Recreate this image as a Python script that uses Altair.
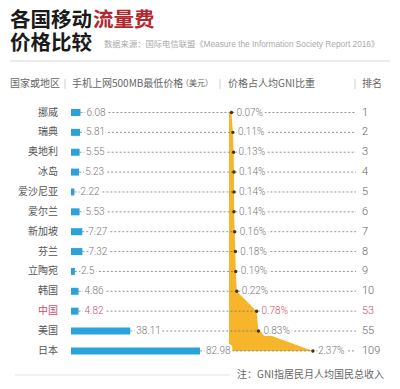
import altair as alt
import pandas as pd

countries = ["挪威", "瑞典", "奥地利", "冰岛", "爱沙尼亚", "爱尔兰", "新加坡", "芬兰", "立陶宛", "韩国", "中国", "美国", "日本"]
prices = [6.08, 5.81, 5.55, 5.23, 2.22, 5.53, 7.27, 7.32, 2.5, 4.86, 4.82, 38.11, 82.98]
price_labels = ["6.08", "5.81", "5.55", "5.23", "2.22", "5.53", "7.27", "7.32", "2.5", "4.86", "4.82", "38.11", "82.98"]
gni_share = [0.07, 0.11, 0.13, 0.14, 0.14, 0.14, 0.16, 0.18, 0.19, 0.22, 0.78, 0.83, 2.37]
ranks = [1, 2, 3, 4, 5, 6, 7, 8, 9, 10, 53, 55, 109]
highlight = "中国"

df = pd.DataFrame({
    "country": countries,
    "price": prices,
    "plabel": price_labels,
    "gni": gni_share,
    "glabel": [f"{g:.2f}%" for g in gni_share],
    "rank": [str(r) for r in ranks],
    "row": list(range(len(countries))),
    "hl": [c == highlight for c in countries],
})

CJK = "Noto Sans CJK SC"
MIX = "Liberation Sans, Noto Sans CJK SC"
NUM = "Roboto"
BLUE = "#2AA3DD"
YELLOW = "#F7B52C"
RED = "#B3262E"
PINK = "#C9506E"

yscale = alt.Scale(domain=[0, 12], range=[99.5, 347.9], nice=False, zero=False)
pscale = alt.Scale(domain=[0, 100], range=[63, 218.5], nice=False, zero=False)
gscale = alt.Scale(domain=[0, 1], range=[221, 256.4], nice=False, zero=False)

Y = alt.Y("row:Q", scale=yscale, axis=None)
XP = alt.X("price:Q", scale=pscale, axis=None)
XG = alt.X("gni:Q", scale=gscale, axis=None)

def hl_color(c_true, c_false):
    return alt.condition(alt.datum.hl, alt.value(c_true), alt.value(c_false))

base = alt.Chart(df)

bars = base.mark_bar(size=7, color=BLUE, orient="horizontal").encode(y=Y, x=XP, x2=alt.datum(0))
area = base.mark_area(orient="horizontal", color=YELLOW).encode(y=Y, x=XG, x2=alt.datum(0))
leader = base.mark_rule(strokeDash=[2, 2], strokeWidth=0.8, color="#777").encode(
    y=Y, x=XP, x2=alt.value(348))
points = base.mark_circle(size=12, color="#4a3200", opacity=1).encode(y=Y, x=XG)

halo_p = base.mark_text(align="left", baseline="middle", dx=6, fontSize=10, font=NUM,
                        color="white", stroke="white", strokeWidth=4).encode(y=Y, x=XP, text="plabel:N")
text_p = base.mark_text(align="left", baseline="middle", dx=6, fontSize=10, font=NUM, fontWeight=300).encode(
    y=Y, x=XP, text="plabel:N", color=hl_color(PINK, "#777"))
halo_g = base.mark_text(align="left", baseline="middle", dx=5, fontSize=10, font=NUM,
                        color="white", stroke="white", strokeWidth=4).encode(y=Y, x=XG, text="glabel:N")
text_g = base.mark_text(align="left", baseline="middle", dx=5, fontSize=10, font=NUM, fontWeight=300).encode(
    y=Y, x=XG, text="glabel:N", color=hl_color(PINK, "#777"))
names = base.mark_text(align="right", baseline="middle", fontSize=10, font=CJK).encode(
    y=Y, x=alt.value(50), text="country:N", color=hl_color(PINK, "#555"))
rank_t = base.mark_text(align="left", baseline="middle", fontSize=11, font=NUM, fontWeight=300).encode(
    y=Y, x=alt.value(354), text="rank:N", color=hl_color(PINK, "#666"))


def label(text, x, y, size=10, color="#666", weight="normal", font=CJK, align="left"):
    return alt.Chart(pd.DataFrame({"t": [text]})).mark_text(
        align=align, baseline="middle", fontSize=size, color=color, font=font, fontWeight=weight
    ).encode(text="t:N", x=alt.value(x), y=alt.value(y))


def vline(x, y1, y2, color="#d0d0d0"):
    return alt.Chart(pd.DataFrame({"a": [0]})).mark_rule(color=color, strokeWidth=1).encode(
        x=alt.value(x), y=alt.value(y1), y2=alt.value(y2))


def hline(x1, x2, y, color="#ececec", w=2):
    return alt.Chart(pd.DataFrame({"a": [0]})).mark_rule(color=color, strokeWidth=w).encode(
        x=alt.value(x1), x2=alt.value(x2), y=alt.value(y))


title1a = label("各国移动", 2, 13, size=20.5, color="#1a1a1a", weight="bold")
title1b = label("流量费", 85, 13, size=20.5, color=RED, weight="bold")
title2 = label("价格比较", 2, 36, size=20.5, color="#1a1a1a", weight="bold")
source = label("数据来源：国际电信联盟《Measure the Information Society Report 2016》", 96, 37,
               size=8.3, color="#aaa", font=MIX)
sep = hline(2, 382, 53)

h1 = label("国家或地区", 2, 76, color="#666")
h2 = label("手机上网500MB最低价格", 64, 76, color="#666")
h2b = label("（美元）", 173, 76, size=8, color="#666")
h3 = label("价格占人均GNI比重", 220, 76, color="#666")
h4 = label("排名", 354, 76, color="#666")
s1 = vline(57, 71, 81)
s2 = vline(212, 71, 81)
s3 = vline(347, 71, 81)

bottom_line = hline(7, 222, 367, color="#eeeeee", w=1.5)
note = label("注：GNI指居民月人均国民总收入", 229, 367, size=10, color="#666")

chart = alt.layer(
    bars, area, leader, points, halo_p, text_p, halo_g, text_g, names, rank_t,
    title1a, title1b, title2, source, sep, h1, h2, h2b, h3, h4, s1, s2, s3, bottom_line, note
).resolve_scale(x="independent").properties(
    width=384, height=373, padding=0,
    autosize=alt.AutoSizeParams(type="none"),
    background="white",
).configure_view(stroke=None)

chart.save("out.html", embed_options={"renderer": "svg", "actions": False})
